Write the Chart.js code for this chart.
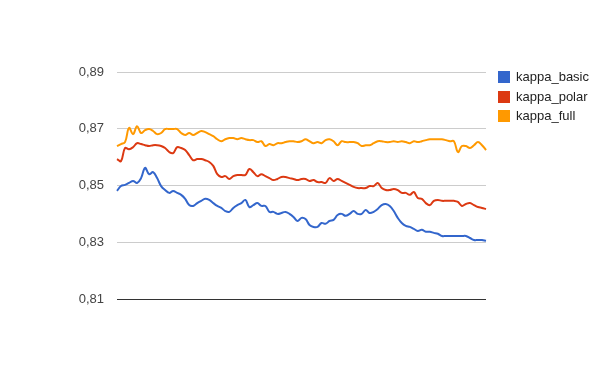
<!DOCTYPE html>
<html>
<head>
<meta charset="utf-8">
<script src="https://cdn.jsdelivr.net/npm/chart.js@4"></script>
<style>
  html, body { margin: 0; padding: 0; background: #fff; }
  #wrap { position: relative; width: 600px; height: 371px; }
  canvas { position: absolute; left: 0; top: 0; }
  .lg { position: absolute; left: 498px; font-family: Arial, "Liberation Sans", sans-serif; font-size: 13px; color: #222; white-space: nowrap; }
  .lg span.sw { position: absolute; left: 0; top: 0; width: 12px; height: 12px; }
  .lg span.tx { position: absolute; left: 18px; top: -2px; line-height: 16px; }
</style>
</head>
<body>
<div id="wrap">
  <canvas id="c" width="600" height="371"></canvas>
</div>
<script>
const seriesNames = ["kappa_basic", "kappa_polar", "kappa_full"];
const seriesColors = ["#3366cc", "#dc3912", "#ff9900"];
const yTicks = [0.81, 0.83, 0.85, 0.87, 0.89];

const kappaBasic = [
  0.8481,0.8498,0.8502,0.8509,0.8516,0.8509,0.8526,0.8562,0.8540,0.8547,
  0.8526,0.8498,0.8484,0.8474,0.8481,0.8474,0.8467,0.8453,0.8431,0.8428,
  0.8438,0.8446,0.8453,0.8449,0.8438,0.8428,0.8421,0.8410,0.8407,0.8421,
  0.8431,0.8438,0.8449,0.8424,0.8431,0.8438,0.8428,0.8428,0.8407,0.8407,
  0.8400,0.8403,0.8407,0.8400,0.8389,0.8375,0.8386,0.8382,0.8361,0.8354,
  0.8354,0.8368,0.8365,0.8375,0.8379,0.8396,0.8400,0.8393,0.8400,0.8410,
  0.8400,0.8400,0.8414,0.8403,0.8407,0.8417,0.8431,0.8435,0.8428,0.8410,
  0.8386,0.8368,0.8358,0.8354,0.8347,0.8340,0.8344,0.8337,0.8337,0.8333,
  0.8330,0.8322,0.8322,0.8322,0.8322,0.8322,0.8322,0.8322,0.8315,0.8308,
  0.8308,0.8308,0.8305
];
const kappaPolar = [
  0.8593,0.8586,0.8632,0.8628,0.8635,0.8649,0.8646,0.8642,0.8639,0.8642,
  0.8642,0.8639,0.8632,0.8618,0.8614,0.8635,0.8632,0.8625,0.8607,0.8589,
  0.8593,0.8593,0.8589,0.8583,0.8569,0.8540,0.8530,0.8533,0.8523,0.8533,
  0.8537,0.8537,0.8537,0.8558,0.8547,0.8533,0.8540,0.8533,0.8526,0.8519,
  0.8523,0.8530,0.8530,0.8526,0.8523,0.8519,0.8523,0.8523,0.8516,0.8519,
  0.8512,0.8512,0.8509,0.8526,0.8516,0.8523,0.8516,0.8509,0.8502,0.8495,
  0.8491,0.8491,0.8491,0.8498,0.8498,0.8509,0.8491,0.8484,0.8484,0.8488,
  0.8484,0.8474,0.8474,0.8467,0.8477,0.8456,0.8453,0.8438,0.8431,0.8446,
  0.8449,0.8446,0.8446,0.8446,0.8446,0.8442,0.8428,0.8435,0.8438,0.8431,
  0.8424,0.8421,0.8417
];
const kappaFull = [
  0.8639,0.8646,0.8653,0.8703,0.8681,0.8709,0.8685,0.8695,0.8699,0.8692,
  0.8681,0.8685,0.8699,0.8699,0.8699,0.8699,0.8685,0.8678,0.8685,0.8678,
  0.8685,0.8692,0.8688,0.8681,0.8674,0.8663,0.8656,0.8663,0.8667,0.8667,
  0.8663,0.8667,0.8663,0.8660,0.8660,0.8653,0.8656,0.8639,0.8646,0.8642,
  0.8649,0.8649,0.8653,0.8656,0.8656,0.8653,0.8656,0.8663,0.8656,0.8649,
  0.8653,0.8649,0.8660,0.8663,0.8656,0.8642,0.8656,0.8653,0.8653,0.8653,
  0.8649,0.8639,0.8642,0.8642,0.8649,0.8656,0.8656,0.8653,0.8653,0.8656,
  0.8653,0.8656,0.8653,0.8649,0.8656,0.8653,0.8656,0.8660,0.8663,0.8663,
  0.8663,0.8663,0.8660,0.8656,0.8656,0.8618,0.8639,0.8639,0.8632,0.8642,
  0.8653,0.8642,0.8625
];
const categories = kappaBasic.map((_, i) => String(i + 1));
const seriesValues = [kappaBasic, kappaPolar, kappaFull];

// HTML legend
const wrap = document.getElementById('wrap');
const legendTops = [71, 90.5, 110];
seriesNames.forEach((name, i) => {
  const d = document.createElement('div');
  d.className = 'lg';
  d.style.top = legendTops[i] + 'px';
  d.innerHTML = '<span class="sw" style="background:' + seriesColors[i] + '"></span><span class="tx">' + name + '</span>';
  wrap.appendChild(d);
});

new Chart(document.getElementById('c'), {
  type: 'line',
  data: {
    labels: categories,
    datasets: seriesNames.map((name, i) => ({
      label: name,
      data: seriesValues[i],
      borderColor: seriesColors[i],
      backgroundColor: seriesColors[i],
      borderWidth: 2,
      pointRadius: 0,
      tension: 0.4,
      fill: false
    }))
  },
  options: {
    responsive: false,
    animation: false,
    events: [],
    layout: { padding: { left: 0, top: 72, right: 114, bottom: 72 } },
    plugins: { legend: { display: false }, tooltip: { enabled: false } },
    scales: {
      x: {
        display: false,
        offset: false
      },
      y: {
        min: yTicks[0],
        max: yTicks[yTicks.length - 1],
        afterFit: (s) => { s.width = 117; },
        afterBuildTicks: (s) => { s.ticks = yTicks.map(v => ({ value: v })); },
        border: { display: false },
        grid: {
          drawTicks: false,
          lineWidth: 1,
          color: (ctx) => (ctx.tick && Math.abs(ctx.tick.value - yTicks[0]) < 1e-6) ? '#333333' : '#cccccc'
        },
        ticks: {
          padding: 13,
          color: '#444444',
          font: { family: 'Arial, "Liberation Sans", sans-serif', size: 13 },
          callback: (v) => Number(v).toFixed(2).replace('.', ',')
        }
      }
    }
  }
});
</script>
</body>
</html>
